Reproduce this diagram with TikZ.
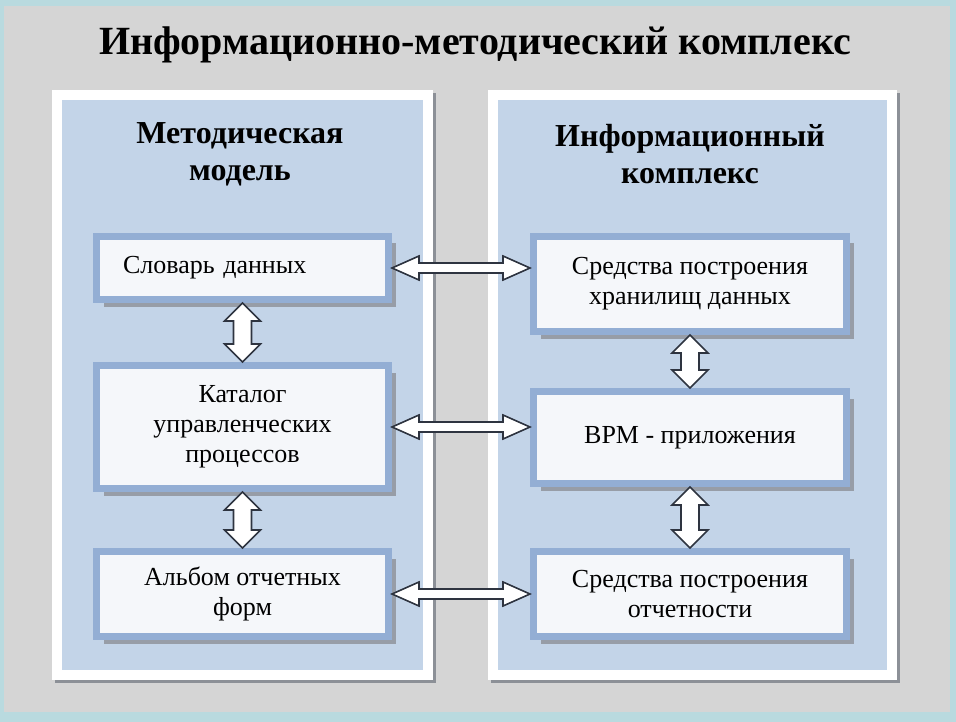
\documentclass[tikz,border=0pt]{standalone}
\usepackage{fontspec}
\setmainfont{Liberation Serif}
\usetikzlibrary{positioning,calc,shadows}

\definecolor{bggray}{HTML}{D5D5D5}
\definecolor{bgedge}{HTML}{B9DADF}
\definecolor{panelblue}{HTML}{C3D4E8}
\definecolor{panelshade}{HTML}{8C9097}
\definecolor{boxedge}{HTML}{93AED4}
\definecolor{boxfill}{HTML}{F5F7FA}
\definecolor{arrowedge}{HTML}{2E3440}

\begin{document}
\begin{tikzpicture}[
    x=1pt, y=-1pt,
    font=\fontsize{26}{30}\selectfont,
    heading/.style={font=\bfseries\fontsize{32}{37}\selectfont, align=center},
    block/.style={draw=boxedge, line width=7pt, fill=boxfill, minimum width=292pt, align=center, inner sep=0pt,
        drop shadow={shadow xshift=7pt, shadow yshift=-7pt, fill=panelshade, opacity=0.8}},
    rblock/.style={block, minimum width=313pt},
    blockarrow/.style={draw=arrowedge, fill=white, line width=1.6pt, line join=miter}
]
\useasboundingbox (0,0) rectangle (956,722);
\fill[bgedge] (0,0) rectangle (956,722);
\fill[bggray] (4,6) rectangle (950,712);

% panels
\fill[panelshade] (55,93) rectangle (436,683);
\fill[white] (52,90) rectangle (433,680);
\fill[panelblue] (62,100) rectangle (423,670);
\fill[panelshade] (491,93) rectangle (900,683);
\fill[white] (488,90) rectangle (897,680);
\fill[panelblue] (498,100) rectangle (887,670);

\node[font=\bfseries\fontsize{40}{44}\selectfont] (title) at (475,45) {Информационно-методический комплекс};
\node[heading] (hl) at (240,154) {Методическая\\модель};
\node[heading] (hr) at (690,154) {Информационный\\комплекс};

\node[block, minimum height=63pt, text width=239pt, align=left] (l1) at (242.5,268) {Словарь данных};
\node[block, minimum height=123pt] (l2) at (242.5,427) {Каталог\\управленческих\\процессов};
\node[block, minimum height=85pt] (l3) at (242.5,594) {Альбом отчетных\\форм};
\node[rblock, minimum height=95pt] (r1) at (690,284) {Средства построения\\хранилищ данных};
\node[rblock, minimum height=92pt] (r2) at (690,437.5) {BPM - приложения};
\node[rblock, minimum height=85pt] (r3) at (690,594) {Средства построения\\отчетности};

\foreach \a/\b in {l1/r1, l2/r2, l3/r3}
  \draw[blockarrow] let \p1=(\a.east), \p2=(\b.west) in
    (\x1,\y1) -- (\x1+27pt,\y1+12pt) -- (\x1+27pt,\y1+5pt) -- (\x2-27pt,\y1+5pt) -- (\x2-27pt,\y1+12pt)
    -- (\x2,\y1) -- (\x2-27pt,\y1-12pt) -- (\x2-27pt,\y1-5pt) -- (\x1+27pt,\y1-5pt) -- (\x1+27pt,\y1-12pt) -- cycle;

\foreach \a/\b in {l1/l2, l2/l3, r1/r2, r2/r3}
  \draw[blockarrow] let \p1=(\a.south), \p2=(\b.north) in
    (\x1,\y1) -- (\x1+18pt,\y1-18pt) -- (\x1+9pt,\y1-18pt) -- (\x1+9pt,\y2+18pt) -- (\x1+18pt,\y2+18pt)
    -- (\x1,\y2) -- (\x1-18pt,\y2+18pt) -- (\x1-9pt,\y2+18pt) -- (\x1-9pt,\y1-18pt) -- (\x1-18pt,\y1-18pt) -- cycle;
\end{tikzpicture}
\end{document}
